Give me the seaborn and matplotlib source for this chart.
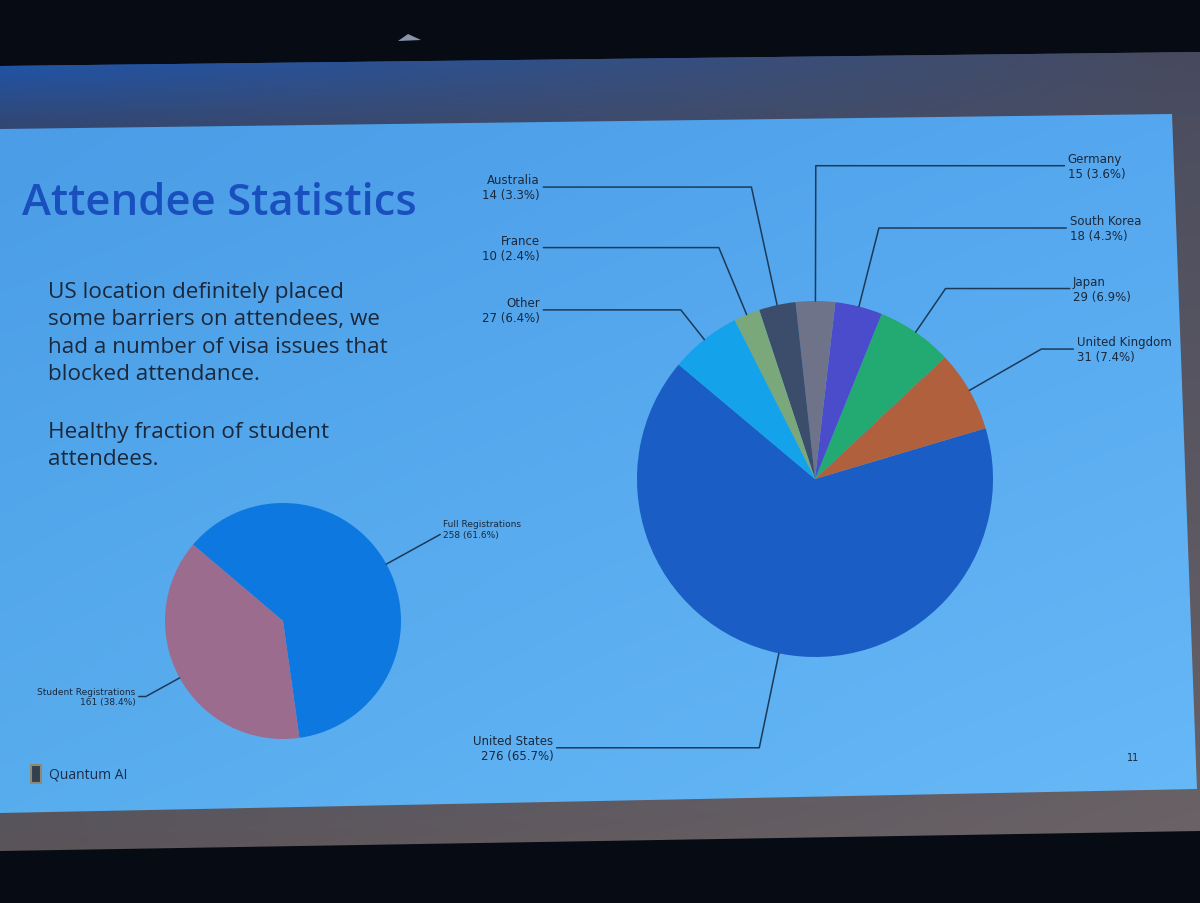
import numpy as np
import matplotlib.pyplot as plt
import seaborn as sns
from matplotlib.patches import Polygon, Rectangle
from matplotlib.colors import to_rgb

sns.set_theme(style="white")
plt.rcParams['font.family'] = ['DejaVu Sans']

# data
countries = ["United States", "United Kingdom", "Japan", "South Korea",
             "Germany", "Australia", "France", "Other"]
country_counts = [276, 31, 29, 18, 15, 14, 10, 27]
country_colors = ["#1a5dc4", "#b0603c", "#22aa72", "#4a4ccb",
                  "#6e7389", "#3c4d6b", "#7aa87a", "#14a2ea"]

reg_types = ["Full Registrations", "Student Registrations"]
reg_counts = [258, 161]
reg_colors = ["#0c78e0", "#9c6c8e"]

# label layout (in pie radius units)
country_label_x = [-1.47, 1.47, 1.45, 1.43, 1.42, -1.545, -1.545, -1.545]
country_label_y = [-1.51, 0.73, 1.07, 1.41, 1.76, 1.64, 1.30, 0.95]
reg_label_x = [1.36, -1.25]
reg_label_y = [0.78, -0.64]

body_1 = ["US location definitely placed",
          "some barriers on attendees, we",
          "had a number of visa issues that",
          "blocked attendance."]
body_2 = ["Healthy fraction of student",
          "attendees."]

W, H = 1200, 904
TXT = "#1b283b"
LINE = "#1c3a58"

fig = plt.figure(figsize=(W / 100, H / 100), dpi=100, facecolor="#070b14")
bg = fig.add_axes([0, 0, 1, 1])
bg.axis("off")


def gradient_fill(ax, poly, tl, tr, bl, br, z):
    xs = [p[0] for p in poly]
    ys = [p[1] for p in poly]
    u = np.linspace(0, 1, 80)
    U, V = np.meshgrid(u, u)
    c = [np.array(to_rgb(k)) for k in (tl, tr, bl, br)]
    img = (((1 - U) * (1 - V))[..., None] * c[0] + (U * (1 - V))[..., None] * c[1]
           + ((1 - U) * V)[..., None] * c[2] + (U * V)[..., None] * c[3])
    patch = Polygon(poly, closed=True, facecolor="none", edgecolor="none")
    ax.add_patch(patch)
    im = ax.imshow(img, extent=(min(xs), max(xs), max(ys), min(ys)),
                   interpolation="bilinear", aspect="auto", zorder=z)
    im.set_clip_path(patch)


# projection screen frame + slide face
screen = [(0, 67), (1200, 53), (1200, 832), (0, 852)]
gradient_fill(bg, screen, "#1f58b0", "#4a4c5e", "#5a5459", "#6a6266", 1)
top_strip = [(0, 67), (1200, 53), (1200, 118), (0, 133)]
gradient_fill(bg, top_strip, "#1d56b0", "#474a5e", "#34466e", "#4b4e62", 2)
slide = [(0, 130), (1172, 115), (1197, 790), (0, 814)]
gradient_fill(bg, slide, "#4a9de6", "#55a8ef", "#58adee", "#67b8f7", 3)
bg.add_patch(Polygon([(398, 42), (408, 35), (421, 41)], closed=True,
                     facecolor="#8a94a8", edgecolor="none", zorder=2))

bg.set_xlim(0, W)
bg.set_ylim(H, 0)

# slide text
bg.text(22, 215, "Attendee Statistics", fontsize=31.5, fontweight="semibold",
        family=["Open Sans", "DejaVu Sans"], color="#1a4fbe", zorder=5)
for i, line in enumerate(body_1):
    bg.text(48, 298 + 27.3 * i, line, fontsize=16.2, family=["Open Sans", "DejaVu Sans"],
            color=TXT, zorder=5)
for i, line in enumerate(body_2):
    bg.text(48, 438 + 27.3 * i, line, fontsize=16.2, family=["Open Sans", "DejaVu Sans"],
            color=TXT, zorder=5)
bg.add_patch(Rectangle((31, 766), 10, 18, facecolor="#34404e", edgecolor="#8c8a72",
                       lw=1.5, zorder=5))
bg.text(49, 775, "Quantum AI", fontsize=10, va="center",
        family=["Open Sans", "DejaVu Sans"], color="#1c2c4c", zorder=5)
bg.text(1133, 758, "11", fontsize=7, va="center", ha="center", color=TXT, zorder=5)


def pie_axes(cx, cy, r, left, right, top, bottom):
    ax = fig.add_axes([(cx - left) / W, 1 - (cy + bottom) / H,
                       (left + right) / W, (top + bottom) / H])
    ax.set_zorder(10)
    return ax, (-left / r, right / r), (-bottom / r, top / r)


def draw_pie(ax, xlim, ylim, names, counts, colors, lx, ly, start, fs):
    total = sum(counts)
    wedges, _ = ax.pie(counts, colors=colors, startangle=start, counterclock=True,
                       wedgeprops=dict(linewidth=0))
    for w, name, n, tx, ty in zip(wedges, names, counts, lx, ly):
        ang = (w.theta1 + w.theta2) / 2
        x, y = np.cos(np.deg2rad(ang)), np.sin(np.deg2rad(ang))
        ax.annotate(f"{name}\n{n} ({n / total * 100:.1f}%)", xy=(x, y), xytext=(tx, ty),
                    ha="left" if tx > 0 else "right", va="center", fontsize=fs,
                    color=TXT, annotation_clip=False,
                    arrowprops=dict(arrowstyle="-", color=LINE, lw=1.1,
                                    shrinkA=0, shrinkB=0,
                                    connectionstyle=f"angle,angleA=0,angleB={ang}"))
    ax.set_xlim(*xlim)
    ax.set_ylim(*ylim)
    ax.axis("off")


ax1, xl, yl = pie_axes(815, 480, 178, 375, 375, 350, 300)
draw_pie(ax1, xl, yl, countries, country_counts, country_colors,
         country_label_x, country_label_y, 140, 8.5)

ax2, xl, yl = pie_axes(283, 622, 118, 270, 280, 140, 160)
draw_pie(ax2, xl, yl, reg_types, reg_counts, reg_colors,
         reg_label_x, reg_label_y, -82, 6.5)

fig.savefig("out.png", dpi=100, facecolor=fig.get_facecolor())
